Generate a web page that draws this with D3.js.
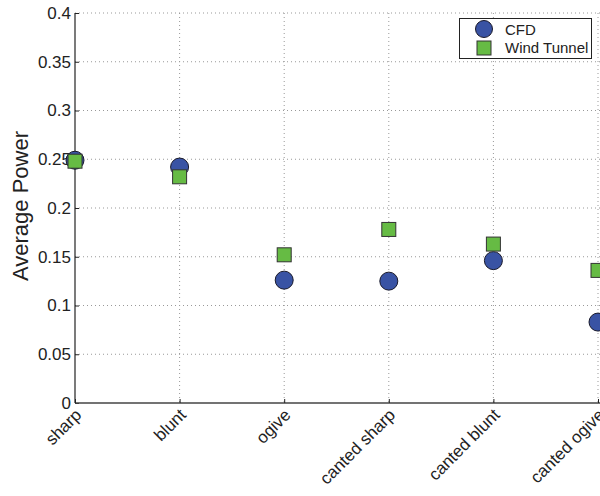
<!DOCTYPE html>
<html><head><meta charset="utf-8">
<script src="https://cdn.jsdelivr.net/npm/d3@7"></script>
<style>body{margin:0;background:#fff}svg{display:block}text{font-family:"Liberation Sans",Arial,sans-serif}</style>
</head><body><svg id="c" width="600" height="496"></svg>
<script>
const categories = ["sharp","blunt","ogive","canted sharp","canted blunt","canted ogive"];
const cfd = [0.249,0.242,0.126,0.125,0.146,0.083];
const windTunnel = [0.248,0.232,0.152,0.178,0.163,0.136];
const yTicks = [0,0.05,0.1,0.15,0.2,0.25,0.3,0.35,0.4];
const seriesNames = ["CFD","Wind Tunnel"];

const svg = d3.select("#c");
const m = {l:75, r:598, t:13, b:403};
const x = d3.scalePoint().domain(categories).range([m.l, m.r]);
const y = d3.scaleLinear().domain([0,0.4]).range([m.b, m.t]);

// grid
const g = svg.append("g");
g.selectAll(".hg").data(yTicks.slice(1)).enter().append("line")
  .attr("x1",m.l).attr("x2",600).attr("y1",d=>y(d)).attr("y2",d=>y(d))
  .attr("stroke","#999").attr("stroke-dasharray","1,3").attr("stroke-width",1);
g.selectAll(".vg").data(categories.slice(1)).enter().append("line")
  .attr("x1",d=>x(d)).attr("x2",d=>x(d)).attr("y1",m.t).attr("y2",m.b)
  .attr("stroke","#999").attr("stroke-dasharray","1,3").attr("stroke-width",1);

// axes
const ya = svg.append("g").attr("transform",`translate(${m.l},0)`)
  .call(d3.axisLeft(y).tickValues(yTicks).tickFormat(d=>String(+d.toFixed(2))).tickSize(-4).tickPadding(4));
ya.select(".domain").attr("stroke","#222").attr("stroke-width",1.2).attr("d",`M0,${m.t}V${m.b}`);
ya.selectAll("text").attr("font-size",17).attr("fill","#222");
ya.selectAll(".tick line").attr("stroke","#222");

const xa = svg.append("g").attr("transform",`translate(0,${m.b})`)
  .call(d3.axisBottom(x).tickSize(-4).tickSizeOuter(0));
xa.select(".domain").attr("stroke","#444").attr("stroke-width",1.6).attr("d",`M${m.l},0H600`);
xa.selectAll(".tick line").attr("stroke","#222");
xa.selectAll("text").attr("font-size",17).attr("fill","#222")
  .attr("text-anchor","end").attr("dy",0).attr("y",0)
  .attr("transform","translate(7,13) rotate(-45)");

// y label
svg.append("text").attr("transform",`translate(28,${(130+282)/2}) rotate(-90)`)
  .attr("text-anchor","middle").attr("font-size",22).attr("fill","#222").text("Average Power");

// markers
const circFill="#3953a4", sqFill="#66bb44";
svg.append("g").selectAll("circle").data(cfd).enter().append("circle")
  .attr("cx",(d,i)=>x(categories[i])).attr("cy",d=>y(d)).attr("r",9)
  .attr("fill",circFill).attr("stroke","#1a1a2a").attr("stroke-width",1);
svg.append("g").selectAll("rect").data(windTunnel).enter().append("rect")
  .attr("x",(d,i)=>x(categories[i])-7).attr("y",d=>y(d)-7).attr("width",14).attr("height",14)
  .attr("fill",sqFill).attr("stroke","#333").attr("stroke-width",1);

// legend
const lg = svg.append("g");
lg.append("rect").attr("x",459.5).attr("y",18.5).attr("width",132).attr("height",40)
  .attr("fill","#fff").attr("stroke","#222").attr("stroke-width",1);
lg.append("circle").attr("cx",484).attr("cy",29).attr("r",8.5).attr("fill",circFill).attr("stroke","#1a1a2a");
lg.append("rect").attr("x",477).attr("y",41).attr("width",14).attr("height",14).attr("fill",sqFill).attr("stroke","#333");
lg.append("text").attr("x",505).attr("y",34.5).attr("font-size",15).attr("fill","#222").text(seriesNames[0]);
lg.append("text").attr("x",505).attr("y",53).attr("font-size",15).attr("fill","#222").text(seriesNames[1]);
</script></body></html>
